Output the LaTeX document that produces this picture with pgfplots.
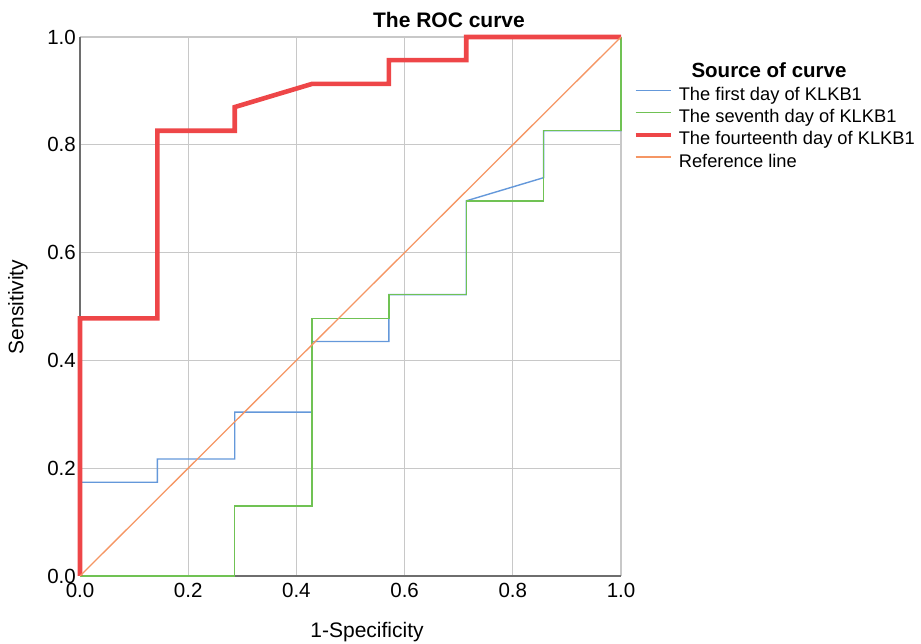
\documentclass[border=0pt]{standalone}
\usepackage{fontspec}
\setmainfont{Liberation Sans}
\usepackage{pgfplots}
\pgfplotsset{compat=1.18}
\definecolor{cblue}{RGB}{100,152,218}
\definecolor{cgreen}{RGB}{112,194,84}
\definecolor{cred}{RGB}{238,70,72}
\definecolor{corange}{RGB}{245,150,100}
\definecolor{cgrid}{RGB}{200,200,200}
\definecolor{caxis}{RGB}{110,110,110}
\begin{document}
\begin{tikzpicture}
\path[use as bounding box] (-80pt,-68pt) rectangle (841pt,576pt);
\begin{axis}[
  name=ax,
  scale only axis, width=541pt, height=539pt,
  xmin=0, xmax=1, ymin=0, ymax=1,
  axis x line*=bottom, axis y line*=left,
  axis line style={caxis, line width=1.2pt},
  xtick={0,0.2,0.4,0.6,0.8,1}, ytick={0,0.2,0.4,0.6,0.8,1},
  grid=major, major grid style={cgrid, line width=1.2pt},
  major tick length=0pt,
  /pgf/number format/assume math mode=true,
  ticklabel style={font=\fontsize{20.5}{24}\selectfont, inner sep=1pt},
  xticklabel style={/tikz/yshift=-6pt, /pgf/number format/.cd, fixed, fixed zerofill, precision=1},
  yticklabel style={/tikz/xshift=-3pt, /pgf/number format/.cd, fixed, fixed zerofill, precision=1},
  legend style={at={(1.0222,0.909)}, anchor=north west, draw=none, fill=none,
    font=\fontsize{18.3}{22}\selectfont, row sep=4.3pt, inner sep=0pt,
    nodes={inner sep=0pt, text height=14pt, text depth=4pt}, column sep=6pt},
  legend cell align=left,
  legend image code/.code={\draw[#1] (0pt,5pt) -- (35pt,5pt);},
  clip=false,
]
\addplot[cblue, line width=1.4pt] coordinates {
(0,0)(0,0.174)(0.143,0.174)(0.143,0.217)(0.286,0.217)(0.286,0.304)(0.429,0.304)(0.429,0.435)(0.571,0.435)(0.571,0.522)(0.714,0.522)(0.714,0.696)(0.857,0.739)(0.857,0.826)(1,0.826)(1,1)};
\addlegendentry{The first day of KLKB1}
\addplot[cgreen, line width=1.4pt] coordinates {
(0,0)(0.286,0)(0.286,0.130)(0.429,0.130)(0.429,0.478)(0.571,0.478)(0.571,0.522)(0.714,0.522)(0.714,0.696)(0.857,0.696)(0.857,0.826)(1,0.826)(1,1)};
\addlegendentry{The seventh day of KLKB1}
\addplot[cred, line width=4.6pt] coordinates {
(0,0)(0,0.478)(0.143,0.478)(0.143,0.826)(0.286,0.826)(0.286,0.870)(0.429,0.913)(0.571,0.913)(0.571,0.957)(0.714,0.957)(0.714,1)(1,1)};
\addlegendentry{The fourteenth day of KLKB1}
\addplot[corange, line width=1.3pt] coordinates {(0,0)(1,1)};
\addlegendentry{Reference line}
\end{axis}
\node[font=\fontsize{21}{24}\selectfont\bfseries] at (369pt,556pt) {The ROC curve};
\node[font=\fontsize{20.5}{24}\selectfont\bfseries] at (689pt,506pt) {Source of curve};
\node[font=\fontsize{21}{24}\selectfont] at (287pt,-56pt) {1-Specificity};
\node[font=\fontsize{21}{24}\selectfont, rotate=90] at (-62pt,269pt) {Sensitivity};
\end{tikzpicture}
\end{document}
